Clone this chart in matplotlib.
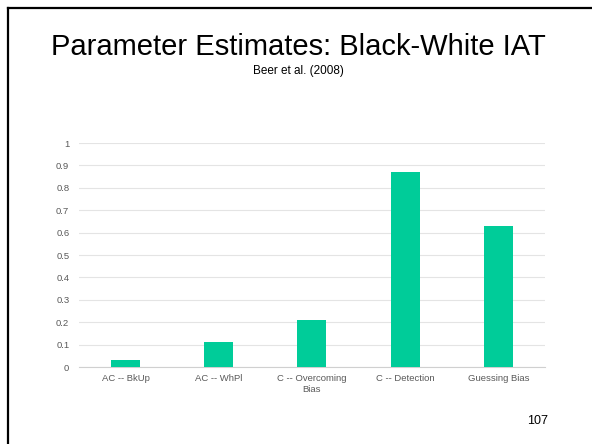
import matplotlib.pyplot as plt
from matplotlib.lines import Line2D

plt.rcParams['font.family'] = ['Liberation Sans', 'DejaVu Sans']

categories = ['AC -- BkUp', 'AC -- WhPl', 'C -- Overcoming\nBias', 'C -- Detection', 'Guessing Bias']
estimates = [0.03, 0.11, 0.21, 0.87, 0.63]
yticks = [0, 0.1, 0.2, 0.3, 0.4, 0.5, 0.6, 0.7, 0.8, 0.9, 1]

fig = plt.figure(figsize=(5.92, 4.44), dpi=100)
ax = fig.add_axes([0.1334, 0.1734, 0.787, 0.5045])

ax.bar(range(len(categories)), estimates, width=0.31, color='#00CC99', zorder=3)
ax.set_xlim(-0.5, len(categories) - 0.5)
ax.set_ylim(0, 1)
ax.set_yticks(yticks)
ax.set_yticklabels([f'{t:g}' for t in yticks])
ax.set_xticks(range(len(categories)))
ax.set_xticklabels(categories, linespacing=1.3)
ax.tick_params(axis='both', length=0, labelsize=6.8, labelcolor='#595959')
ax.tick_params(axis='y', pad=7)
ax.tick_params(axis='x', pad=5)
ax.grid(axis='y', color='#E4E4E4', linewidth=0.8, zorder=0)
for s in ['top', 'right', 'left']:
    ax.spines[s].set_visible(False)
ax.spines['bottom'].set_color('#D0D0D0')
ax.spines['bottom'].set_linewidth(0.8)

fig.text(0.504, 0.876, 'Parameter Estimates: Black-White IAT', ha='center', va='baseline',
         fontsize=21, color='black')
fig.text(0.504, 0.841, 'Beer et al. (2008)', ha='center', va='center', fontsize=8.5, color='black')
fig.text(0.926, 0.052, '107', ha='right', va='center', fontsize=9, color='black')

# slide frame: top and left edges only
fig.add_artist(Line2D([0.0135, 1.0], [0.982, 0.982], color='black', linewidth=1.6,
                      transform=fig.transFigure))
fig.add_artist(Line2D([0.0135, 0.0135], [0.0, 0.982], color='black', linewidth=1.6,
                      transform=fig.transFigure))

fig.savefig('out.png', dpi=100)
